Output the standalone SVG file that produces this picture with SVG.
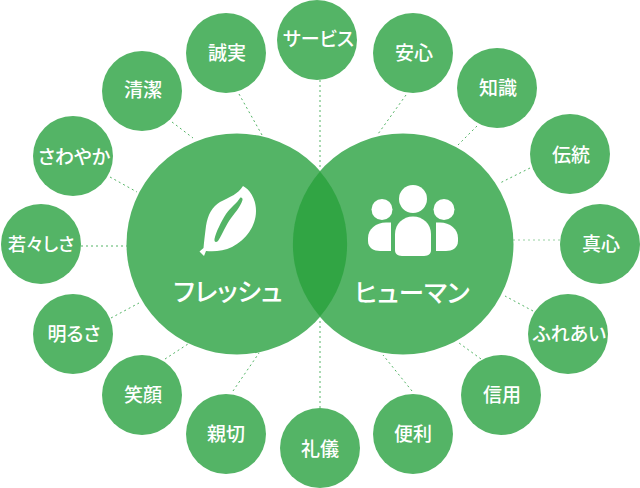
<svg xmlns="http://www.w3.org/2000/svg" width="640" height="488" viewBox="0 0 640 488">
<style>
.n{fill:#54b466}
.c{stroke:#54b466;stroke-width:1;stroke-dasharray:2 3;fill:none}
text{font-family:"Noto Sans CJK JP","Noto Sans",sans-serif;fill:#fff;text-anchor:middle;font-feature-settings:"palt";font-weight:500}
.s{font-size:19px}
.k{font-size:18px}
.b{font-size:25.500px}
</style>
<rect width="640" height="488" fill="#fff"/>
<g id="connectors">
<path class="c" d="M320 80V170"/>
<path class="c" d="M239 94L262 135"/>
<path class="c" d="M172 122L193 138"/>
<path class="c" d="M110 177L137 192"/>
<path class="c" d="M81 246H127"/>
<path class="c" d="M111 318L139 303"/>
<path class="c" d="M165 359L188 344"/>
<path class="c" d="M233 391L259 353"/>
<path class="c" d="M320 408V318"/>
<path class="c" d="M412 391L383 355"/>
<path class="c" d="M481 359L459 343"/>
<path class="c" d="M533 311L505 296"/>
<path class="c" d="M560 240H513" opacity=".6"/>
<path class="c" d="M530 168L500 183"/>
<path class="c" d="M477 126L458 145"/>
<path class="c" d="M406 95L378 134"/>
</g>
<g id="fresh"><circle class="n" cx="237" cy="244" r="110.500"/>
<path fill="#fff" d="M243 186C249 189 256 198 256 211C256 226 246 240 232 247C224 251 214 252 206 251L204 256L199.500 251.500L203.500 248C204 242 205 234 206 226C208 214 212 207 220 202C230 197 238 194 243 186Z"/>
<path fill="#54b466" d="M240 198C241 197 243 198 242.500 200C241 206 234 214 229 221C224 229 221 237 218 241C216 243 214 242 214.500 239C216 232 221 222 226 214C231 207 237 203 240 198Z"/>
<text class="b" x="228" y="301">フレッシュ</text></g>
<g id="human"><circle class="n" cx="403" cy="244" r="110.500"/>
<path fill="#31a544" d="M320 171.500A110.500 110.500 0 0 1 320 316.500A110.500 110.500 0 0 1 320 171.500Z"/>
<g fill="#fff"><circle cx="413" cy="199" r="14"/><circle cx="382" cy="209.500" r="10.500"/><circle cx="444" cy="209.500" r="10.500"/>
<path d="M413 216.500C403 216.500 395 224 395 234V250C395 254 398 256 402 256H424C428 256 431 254 431 250V234C431 224 423 216.500 413 216.500Z"/>
<path d="M391 222.500H386C376 222.500 368 229 368 238V241C368 248 374 251 380 251H391Z"/>
<path d="M436 222.500H440C450 222.500 458 229 458 238V241C458 248 452 251 446 251H436Z"/></g>
<text class="b" x="412" y="302">ヒューマン</text></g>
<g id="n1"><circle class="n" cx="317" cy="40" r="40"/><text class="s" x="318.500" y="46">サービス</text></g>
<g id="n2"><circle class="n" cx="226" cy="53" r="40"/><text class="s" x="227" y="60">誠実</text></g>
<g id="n3"><circle class="n" cx="142" cy="91" r="40"/><text class="s" x="143" y="97">清潔</text></g>
<g id="n4"><circle class="n" cx="73" cy="156" r="40"/><text class="s" x="74" y="164">さわやか</text></g>
<g id="n5"><circle class="n" cx="41" cy="244" r="40"/><text class="k" x="41" y="251">若々しさ</text></g>
<g id="n6"><circle class="n" cx="73" cy="334" r="40"/><text class="s" x="74" y="341">明るさ</text></g>
<g id="n7"><circle class="n" cx="142" cy="395" r="40"/><text class="s" x="143" y="402">笑顔</text></g>
<g id="n8"><circle class="n" cx="226" cy="434" r="40"/><text class="s" x="226" y="441">親切</text></g>
<g id="n9"><circle class="n" cx="320" cy="448" r="40"/><text class="s" x="320" y="456">礼儀</text></g>
<g id="n10"><circle class="n" cx="413" cy="434" r="40"/><text class="s" x="413" y="441">便利</text></g>
<g id="n11"><circle class="n" cx="501" cy="395" r="40"/><text class="s" x="502" y="402">信用</text></g>
<g id="n12"><circle class="n" cx="568" cy="334" r="40"/><text class="s" x="569.500" y="341">ふれあい</text></g>
<g id="n13"><circle class="n" cx="600" cy="244" r="40"/><text class="s" x="601" y="251">真心</text></g>
<g id="n14"><circle class="n" cx="570" cy="154" r="40"/><text class="s" x="571" y="162">伝統</text></g>
<g id="n15"><circle class="n" cx="497" cy="88" r="40"/><text class="s" x="498" y="95">知識</text></g>
<g id="n16"><circle class="n" cx="413" cy="53" r="40"/><text class="s" x="414" y="60">安心</text></g>
</svg>
